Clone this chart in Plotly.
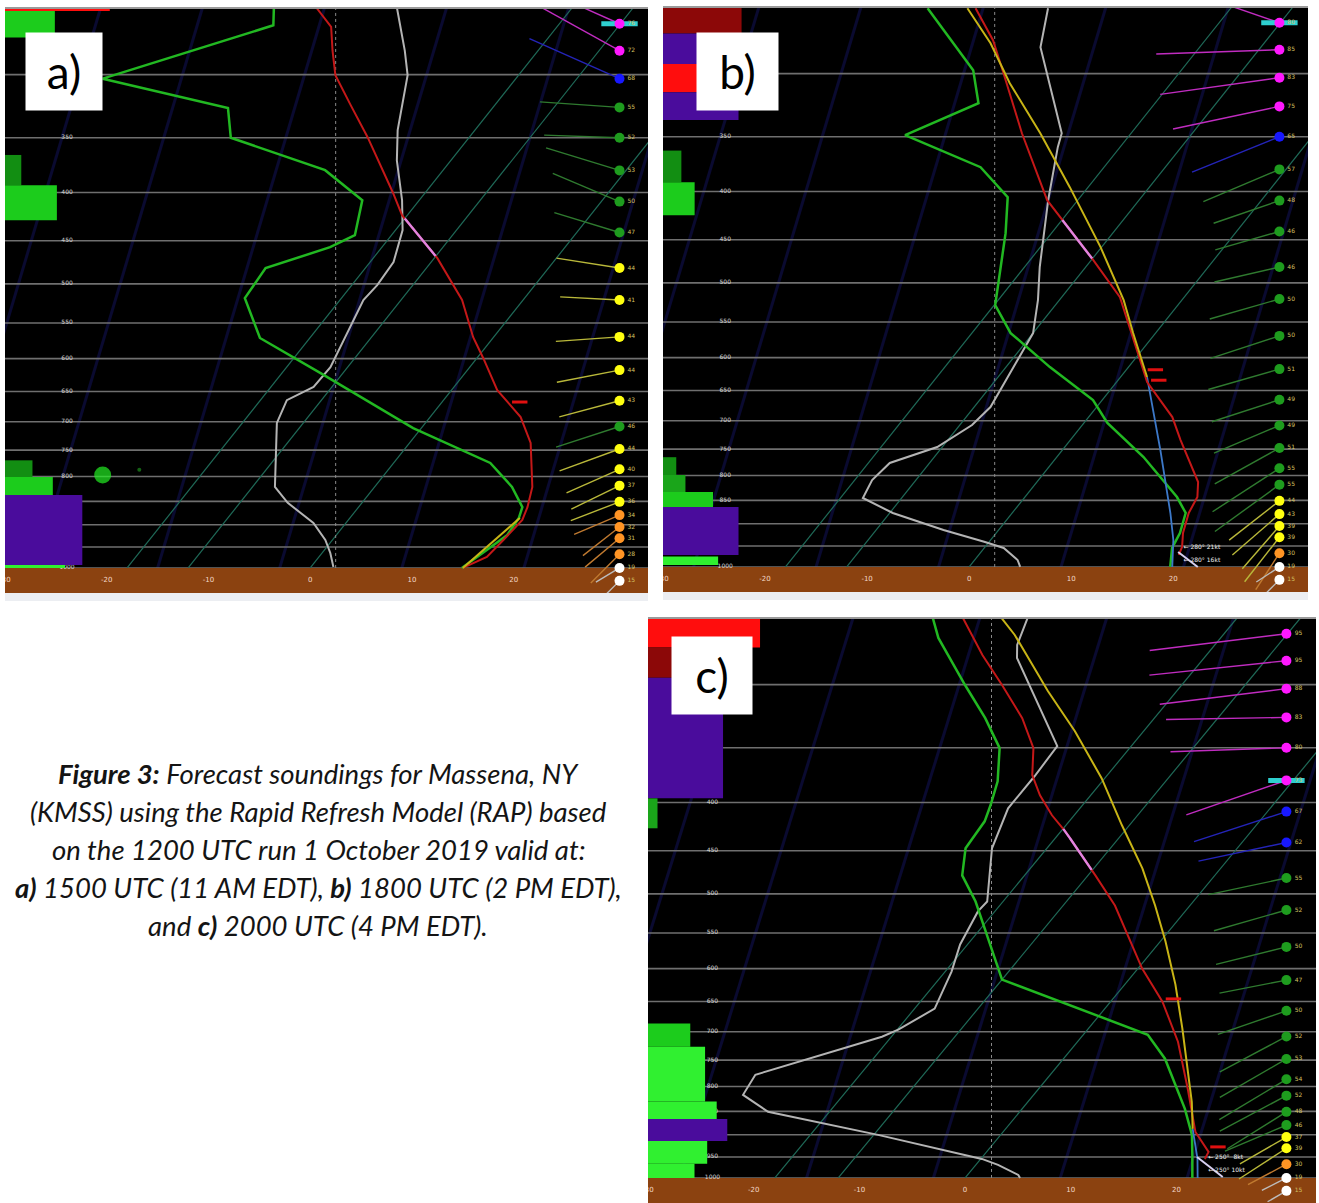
import math
import plotly.graph_objects as go

W, H = 1319, 1203
SKEW = 32.0                 # skew of isotherms, degC per ln(1000/p)
X_MIN, X_MAX = -30.0, 33.2
P_BOT, P_TOP = 1063.0, 255.0
WIND_X = 30.4
PRES_LABEL_X = -23.9
T_LABEL_P = 1031.0

# ---------------- background grid values ----------------
P_LINES = [1000, 950, 900, 850, 800, 750, 700, 650, 600, 550, 500, 450, 400, 350, 300]
P_LABELS = [1000, 950, 900, 850, 800, 750, 700, 650, 600, 550, 500, 450, 400, 350]
T_LABELS = [-30, -20, -10, 0, 10, 20]
ISOTHERMS = [-18, -12, 0]
DGZ = (-18.0, -12.0)
REF_LINE_X = 2.5
FAINT_LINES = [-37, -27, -15, -3, 9, 21]

WIND_P = [265, 283, 303, 325, 350, 379, 409, 441, 481, 520, 569, 617, 665, 708,
          748, 786, 818, 851, 879, 905, 930, 967, 1000, 1032]

# ---------------- panel a (1500 UTC) ----------------
A_T_P = [255, 267, 283, 300.5, 323, 349.5, 400, 423, 469.5, 520, 569.5, 599, 648, 692, 737,
         820.5, 862, 889.5, 934, 973.5, 1000]
A_T = [-43.1, -40.2, -38.2, -36.0, -32.2, -28.0, -21.2, -18.5, -11.7, -6.0, -2.0, 0.6, 4.5, 8.9,
       11.9, 15.5, 16.6, 17.1, 16.8, 16.5, 15.0]
A_TD_P = [255, 266, 303, 325.5, 350, 378.8, 407.6, 443.9, 457.1, 481.1, 517.6, 570.5, 621.5, 711,
          774, 820.5, 862, 885, 922.7, 1000]
A_TD = [-47.3, -46.0, -58.6, -44.0, -41.4, -29.6, -23.6, -21.6, -23.1, -27.8, -27.5, -22.9, -14.2,
        -0.8, 9.5, 13.5, 16.1, 16.6, 16.8, 14.9]
A_GR_P = [255, 283, 300.5, 343.5, 370, 407.5, 438.5, 474, 501.5, 520, 612.5, 643, 664, 702, 820.5,
          853, 896, 934, 964, 997.5]
A_GR = [-35.2, -31.1, -28.9, -25.6, -23.3, -19.7, -17.3, -15.7, -15.5, -15.7, -13.7, -13.8, -15.4,
        -14.6, -9.8, -7.3, -3.2, -0.7, 0.8, 2.2]
A_PCL_P = [885, 1000]
A_PCL = [16.7, 15.0]
A_WDIR = [294, 299, 294, 274, 272, 287, 293, 287, 279, 273, 266, 259, 255, 252, 250, 246, 244, 249,
          247, 232, 230, 225, 239, 225]
A_WSPD = [76, 72, 68, 55, 52, 53, 50, 47, 44, 41, 44, 44, 43, 46, 44, 40, 37, 36, 34, 32, 31, 28, 19, 15]
A_MAXW = 0
A_CLD_TOP = [255, 256.8, 365, 393, 769, 801, 837, 993]
A_CLD_BOT = [256.8, 274, 393, 428, 801, 837, 993, 1000]
A_CLD_AMT = [103, 49, 16, 51, 27, 47, 76, 59]
A_CLD_KIND = ['R', 'G', 'DG', 'G', 'DG', 'G', 'P', 'L']
A_MARK_P = [667]

# ---------------- panel b (1800 UTC) ----------------
B_T_P = [255.8, 276.5, 299.0, 347.0, 408.6, 425.9, 450.4, 472.9, 517.6, 591.9, 636.9, 693.6, 733.6,
         812.8, 843.1, 876.6, 920.4, 952.4, 971.1]
B_T = [-43.0, -38.8, -35.3, -28.7, -21.0, -18.4, -14.9, -11.8, -6.3, -0.3, 3.0, 8.2, 10.8, 15.8,
       16.9, 17.3, 18.3, 19.3, 19.6]
B_SFC_P = [964, 1000]
B_SFC_T = [19.3, 22.4]
B_TD_P = [255.8, 297.5, 322.5, 348.6, 377.0, 405.6, 442.8, 508.9, 527.8, 565.1, 614.0, 665.4, 703.8,
          764.7, 843.1, 876.6, 920.4, 954.7, 1000]
B_TD = [-47.7, -38.4, -35.3, -40.0, -30.1, -25.1, -22.5, -18.8, -17.9, -14.2, -7.7, -0.9, 2.3, 8.5,
        14.9, 17.0, 18.0, 18.4, 19.7]
B_GR_P = [255.8, 281.3, 347.0, 359.0, 408.6, 481.1, 521.4, 565.1, 676.9, 707.3, 746.2, 775.9, 808.8,
          845.1, 876.6, 913.7, 940.8, 954.7, 983.1, 1000]
B_GR = [-35.9, -33.6, -24.8, -24.1, -20.9, -16.5, -14.1, -12.0, -10.4, -10.8, -12.5, -15.9, -16.3,
        -15.8, -11.7, -5.4, -0.4, 1.9, 4.2, 5.0]
B_PCL_P = [255.8, 278.6, 307.1, 347.0, 395.8, 458.2, 521.4, 565.1, 629.1]
B_PCL = [-43.8, -38.8, -33.8, -26.9, -19.8, -12.1, -5.7, -2.2, 2.6]
B_VT_P = [629.1, 751.7, 876.6, 936.3, 1000]
B_VT = [2.6, 9.6, 15.5, 17.9, 19.9]
B_WDIR = [289, 268, 262, 258, 248, 247, 251, 254, 257, 254, 252, 254, 252, 247, 241, 237, 234, 232,
          229, 221, 218, 213, 237, 225]
B_WSPD = [80, 85, 83, 75, 65, 57, 48, 46, 46, 50, 50, 51, 49, 49, 51, 55, 55, 44, 43, 39, 39, 30, 19, 15]
B_MAXW = 0
B_CLD_TOP = [255, 272, 293, 314, 362, 391, 765, 799, 833, 864, 975]
B_CLD_BOT = [272, 293, 314, 336, 391, 424, 799, 833, 864, 971, 995]
B_CLD_AMT = [77, 55, 50, 74, 18, 31, 13, 22, 49, 74, 54]
B_CLD_KIND = ['DR', 'P', 'R', 'P', 'DG', 'G', 'DG', 'M', 'G', 'P', 'L']
B_MARK_P = [618, 634]
B_SFC_TEXT = ['\u2190 280\u00b0 21kt', '\u2190 280\u00b0 16kt']
B_SFC_TEXT_P = [953, 985]

# ---------------- panel c (2000 UTC) ----------------
C_T_P = [253.7, 279.1, 300.3, 325.6, 350.3, 374.2, 393.0, 412.7, 429.1, 477.9, 514.3, 599.9, 650.3,
         717.1, 804.4, 893.8, 938.4, 954.6]
C_T = [-44.2, -39.2, -35.0, -30.5, -27.1, -25.1, -22.8, -20.1, -17.6, -11.3, -7.1, 0.4, 4.9, 9.5,
       14.1, 18.2, 21.0, 21.2]
C_SFC_P = [950, 997.6]
C_SFC_T = [20.3, 24.3]
C_TD_P = [253.7, 267.7, 300.3, 325.6, 350.3, 379.8, 402.7, 418.8, 447.3, 477.9, 509.3, 544.0, 616.2,
          705.0, 747.5, 844.8, 900.2, 945.3, 1000]
C_TD = [-47.0, -44.7, -38.5, -34.0, -30.3, -27.9, -26.7, -26.0, -25.7, -23.9, -20.6, -17.6, -12.0,
        6.1, 9.6, 15.4, 18.1, 19.7, 21.5]
C_GR_P = [253.7, 272.3, 281.1, 348.6, 375.2, 405.7, 447.3, 509.3, 521.8, 565.7, 604.3, 661.5, 696.4,
          708.4, 777.4, 816.4, 851.0, 900.2, 954.6, 968.7, 992.7, 1000]
C_GR = [-37.9, -36.7, -35.7, -25.0, -24.8, -24.8, -23.2, -19.5, -19.6, -18.7, -17.4, -16.1, -17.9,
        -18.9, -27.9, -27.5, -23.8, -11.6, 0.1, 2.1, 4.8, 5.2]
C_PCL_P = [253.7, 265.8, 304.7, 336.1, 377.0, 422.9, 469.8, 514.3, 561.6, 623.8, 694.7, 766.1, 830.4, 887.1]
C_PCL = [-40.6, -37.7, -30.2, -24.5, -18.3, -12.7, -7.4, -3.3, 0.5, 4.8, 8.9, 12.5, 15.5, 17.7]
C_VT_P = [887.1, 954.6, 1000]
C_VT = [17.7, 20.5, 22.0]
C_WDIR = [263, 264, 263, 269, 268, 251, 252, 258, 258, 254, 256, 259, 251, 242, 240, 239, 242, 238,
          247, 240, 237, 242, 243, 240]
C_WSPD = [95, 95, 88, 83, 80, 73, 67, 62, 55, 52, 50, 47, 50, 52, 53, 54, 52, 48, 46, 37, 39, 30, 19, 15]
C_MAXW = 5
C_CLD_TOP = [254, 274, 295, 396, 686, 726, 830, 866, 914, 966]
C_CLD_BOT = [274, 295, 396, 426, 726, 830, 866, 914, 966, 1000]
C_CLD_AMT = [106, 50, 71, 9, 40, 54, 65, 75, 56, 44]
C_CLD_KIND = ['R', 'DR', 'P', 'M', 'G', 'L', 'L', 'P', 'L', 'L']
C_MARK_P = [646, 927]
C_SFC_TEXT = ['\u2190 250\u00b0  8kt', '\u2190 250\u00b0 10kt']
C_SFC_TEXT_P = [951, 982]

CAPTION = [
    "<b><i>Figure 3:</i></b><i> Forecast soundings for Massena, NY</i>",
    "<i>(KMSS) using the Rapid Refresh Model (RAP) based</i>",
    "<i>on the 1200 UTC run 1 October 2019 valid at:</i>",
    "<b><i>a)</i></b><i> 1500 UTC (11 AM EDT), </i><b><i>b)</i></b><i> 1800 UTC (2 PM EDT),</i>",
    "<i>and </i><b><i>c)</i></b><i> 2000 UTC (4 PM EDT).</i>",
]

# ---------------- styles / layout ----------------
CLOUD_COLORS = {'G': '#1ccc1c', 'DG': '#128e12', 'L': '#30f030', 'M': '#1aa51a',
                'P': '#4a0c9c', 'R': '#ff0d0d', 'DR': '#8c0808'}
PANEL_BOX = {'a': (5, 648, 8, 593), 'b': (663, 1308, 7, 592), 'c': (648, 1316, 618, 1203)}
AX = {'a': ('x', 'y'), 'b': ('x2', 'y2'), 'c': ('x3', 'y3')}

fig = go.Figure()


def skx(t, p):
    return t + SKEW * math.log(1000.0 / p)


def add(panel, **kw):
    xa, ya = AX[panel]
    kw.setdefault('showlegend', False)
    kw.setdefault('hoverinfo', 'skip')
    fig.add_trace(go.Scatter(xaxis=xa, yaxis=ya, **kw))


def profile(panel, ps, ts, color, width):
    add(panel, x=[skx(t, p) for t, p in zip(ts, ps)], y=ps, mode='lines',
        line=dict(color=color, width=width))


def in_range_segment(ps, ts, lo, hi):
    xs, ys = [], []
    for i in range(len(ps) - 1):
        l1, l2 = math.log(ps[i]), math.log(ps[i + 1])
        for k in range(41):
            f = k / 40.0
            t = ts[i] + (ts[i + 1] - ts[i]) * f
            p = math.exp(l1 + (l2 - l1) * f)
            if lo <= t <= hi:
                xs.append(skx(t, p))
                ys.append(p)
    return xs, ys


def spd_color(s):
    if s < 20:
        return '#ffffff', '#bdbdbd'
    if s < 35:
        return '#ff9424', '#c07a30'
    if s < 45:
        return '#ffff10', '#b9b83a'
    if s < 60:
        return '#1e9c1e', '#2f7a2f'
    if s < 70:
        return '#1818ff', '#2424b8'
    return '#ff18ff', '#c02cc0'


def build_panel(panel, T_P, T, TD_P, TD, GR_P, GR, wdir, wspd, maxw, cld_top, cld_bot, cld_amt,
                cld_kind, mark_p, pcl=None, vt=None, sfc=None, sfc_text=None):
    x0, x1, y0, y1 = PANEL_BOX[panel]
    pxX = (x1 - x0) / (X_MAX - X_MIN)
    pxL = (y1 - y0) / math.log(P_BOT / P_TOP)

    # faint dark-blue guide lines
    fx, fy = [], []
    for c in FAINT_LINES:
        fx += [c + 12.0 * math.log(1000.0 / P_BOT), c + 12.0 * math.log(1000.0 / P_TOP), None]
        fy += [P_BOT, P_TOP, None]
    add(panel, x=fx, y=fy, mode='lines', line=dict(color='#0a0a30', width=3))

    # pressure lines
    hx, hy = [], []
    for p in P_LINES:
        hx += [X_MIN, X_MAX, None]
        hy += [p, p, None]
    add(panel, x=hx, y=hy, mode='lines', line=dict(color='#6f6f6f', width=1.6))

    # isotherms
    ix, iy = [], []
    for t in ISOTHERMS:
        ix += [skx(t, 1000), skx(t, P_TOP), None]
        iy += [1000, P_TOP, None]
    add(panel, x=ix, y=iy, mode='lines', line=dict(color='#1f6a58', width=1.2))

    # dotted reference vertical
    add(panel, x=[REF_LINE_X, REF_LINE_X], y=[1000, P_TOP], mode='lines',
        line=dict(color='#8a8a8a', width=1, dash='dot'))

    # ground band
    add(panel, x=[X_MIN, X_MAX, X_MAX, X_MIN, X_MIN], y=[1000, 1000, P_BOT, P_BOT, 1000],
        mode='lines', fill='toself', fillcolor='#8b4210', line=dict(width=0, color='#8b4210'))
    add(panel, x=T_LABELS, y=[T_LABEL_P] * len(T_LABELS), mode='text',
        text=[str(t) for t in T_LABELS], textfont=dict(size=7, color='#f3d8c8', family='DejaVu Sans'))

    # pressure labels
    add(panel, x=[PRES_LABEL_X] * len(P_LABELS), y=P_LABELS, mode='text',
        text=[str(p) for p in P_LABELS], textfont=dict(size=6, color='#d4d4d4', family='DejaVu Sans'))

    # cloud bars
    for pt, pb, amt, kind in zip(cld_top, cld_bot, cld_amt, cld_kind):
        xr = X_MIN + amt / 10.0
        add(panel, x=[X_MIN, xr, xr, X_MIN, X_MIN], y=[pb, pb, pt, pt, pb], mode='lines',
            fill='toself', fillcolor=CLOUD_COLORS[kind], line=dict(width=0, color=CLOUD_COLORS[kind]))

    # profiles
    profile(panel, GR_P, GR, '#b4b4b4', 2)
    profile(panel, TD_P, TD, '#22b822', 2.5)
    if vt is not None:
        profile(panel, vt[0], vt[1], '#3c78c8', 1.8)
    profile(panel, T_P, T, '#c41818', 2)
    if sfc is not None:
        profile(panel, sfc[0], sfc[1], '#d6d0f0', 2)
    if pcl is not None:
        profile(panel, pcl[0], pcl[1], '#c8b416', 2)
    dx, dy = in_range_segment(T_P, T, DGZ[0], DGZ[1])
    add(panel, x=dx, y=dy, mode='lines', line=dict(color='#e184e1', width=2.4))

    # level markers near temperature trace
    mx = []
    for p in mark_p:
        for i in range(len(T_P) - 1):
            if T_P[i] <= p <= T_P[i + 1]:
                f = (math.log(p) - math.log(T_P[i])) / (math.log(T_P[i + 1]) - math.log(T_P[i]))
                mx.append(skx(T[i] + (T[i + 1] - T[i]) * f, p) + 1.2)
                break
    add(panel, x=mx, y=mark_p, mode='markers',
        marker=dict(symbol='line-ew', size=11, line=dict(color='#e01010', width=3)))

    if sfc_text is not None:
        add(panel, x=[sfc_text[2]] * len(sfc_text[0]), y=sfc_text[1], mode='text',
            text=sfc_text[0], textposition='middle right',
            textfont=dict(size=6, color='#f0f0f0', family='DejaVu Sans'))

    # wind staffs (length proportional to speed)
    groups = {}
    for p, d, s in zip(WIND_P, wdir, wspd):
        L = 1.45 * s
        ex = WIND_X + L * math.sin(math.radians(d)) / pxX
        ep = p * math.exp(-L * math.cos(math.radians(d)) / pxL)
        col = spd_color(s)[1]
        gx, gy = groups.setdefault(col, ([], []))
        gx += [WIND_X, ex, None]
        gy += [p, ep, None]
    for col, (gx, gy) in groups.items():
        add(panel, x=gx, y=gy, mode='lines', line=dict(color=col, width=1.4))

    # max-wind bar
    add(panel, x=[WIND_X], y=[WIND_P[maxw]], mode='markers',
        marker=dict(symbol='line-ew', size=26, line=dict(color='#2ecfcf', width=5)))
    # wind dots and speed labels
    add(panel, x=[WIND_X] * len(WIND_P), y=WIND_P, mode='markers',
        marker=dict(size=10, color=[spd_color(s)[0] for s in wspd], line=dict(width=0)))
    add(panel, x=[WIND_X + 1.15] * len(WIND_P), y=WIND_P, mode='text',
        text=[str(s) for s in wspd], textfont=dict(size=6, color='#d2c060', family='DejaVu Sans'))


build_panel('a', A_T_P, A_T, A_TD_P, A_TD, A_GR_P, A_GR, A_WDIR, A_WSPD, A_MAXW,
            A_CLD_TOP, A_CLD_BOT, A_CLD_AMT, A_CLD_KIND, A_MARK_P, pcl=(A_PCL_P, A_PCL))
# precipitation icon in panel a
add('a', x=[-20.4, -16.8], y=[797, 787], mode='markers',
    marker=dict(size=[17, 4], color=['#22ee22', '#1c8c1c'], line=dict(width=0)))
build_panel('b', B_T_P, B_T, B_TD_P, B_TD, B_GR_P, B_GR, B_WDIR, B_WSPD, B_MAXW,
            B_CLD_TOP, B_CLD_BOT, B_CLD_AMT, B_CLD_KIND, B_MARK_P,
            pcl=(B_PCL_P, B_PCL), vt=(B_VT_P, B_VT), sfc=(B_SFC_P, B_SFC_T),
            sfc_text=(B_SFC_TEXT, B_SFC_TEXT_P, 21.0))
build_panel('c', C_T_P, C_T, C_TD_P, C_TD, C_GR_P, C_GR, C_WDIR, C_WSPD, C_MAXW,
            C_CLD_TOP, C_CLD_BOT, C_CLD_AMT, C_CLD_KIND, C_MARK_P,
            pcl=(C_PCL_P, C_PCL), vt=(C_VT_P, C_VT), sfc=(C_SFC_P, C_SFC_T),
            sfc_text=(C_SFC_TEXT, C_SFC_TEXT_P, 23.0))

layout = dict(width=W, height=H, margin=dict(l=0, r=0, t=0, b=0), paper_bgcolor='white',
              plot_bgcolor='black', showlegend=False)
for panel, (xa, ya) in AX.items():
    x0, x1, y0, y1 = PANEL_BOX[panel]
    xk = 'xaxis' + xa[1:]
    yk = 'yaxis' + ya[1:]
    common = dict(showgrid=False, zeroline=False, showticklabels=False, showline=False,
                  ticks='', fixedrange=True)
    layout[xk] = dict(domain=[x0 / W, x1 / W], range=[X_MIN, X_MAX], anchor=ya, **common)
    layout[yk] = dict(domain=[1 - y1 / H, 1 - y0 / H], type='log',
                      range=[math.log10(P_BOT), math.log10(P_TOP)], anchor=xa, **common)
fig.update_layout(**layout)

# light strips under panels a and b, thin top borders
shapes = []
for panel in ('a', 'b'):
    x0, x1, y0, y1 = PANEL_BOX[panel]
    shapes.append(dict(type='rect', xref='paper', yref='paper', x0=x0 / W, x1=x1 / W,
                       y0=1 - (y1 + 8) / H, y1=1 - y1 / H, fillcolor='#eceef2', line=dict(width=0),
                       layer='below'))
for panel in ('a', 'b', 'c'):
    x0, x1, y0, y1 = PANEL_BOX[panel]
    shapes.append(dict(type='line', xref='paper', yref='paper', x0=x0 / W, x1=x1 / W,
                       y0=1 - y0 / H, y1=1 - y0 / H, line=dict(color='#9a9a9a', width=2)))
fig.update_layout(shapes=shapes)

# panel label boxes
for txt, cx, cy, bw, bh in [('a)', 64, 71.5, 76, 77), ('b)', 737.5, 71.5, 81, 77),
                            ('c)', 712, 675.5, 80, 77)]:
    fig.add_annotation(xref='paper', yref='paper', x=cx / W, y=1 - cy / H, text=txt,
                       showarrow=False, bgcolor='white', width=bw, height=bh, borderpad=0,
                       xanchor='center', yanchor='middle',
                       font=dict(family='Lato', size=46, color='black'))

# caption
for i, line in enumerate(CAPTION):
    fig.add_annotation(xref='paper', yref='paper', x=318 / W, y=1 - (773 + 38 * i) / H,
                       text=line, showarrow=False, xanchor='center', yanchor='middle',
                       font=dict(family='Lato', size=27.5, color='#141414'))

fig.write_html('out.html', config={'displayModeBar': False},
               post_script="document.body.style.margin='0px';")
